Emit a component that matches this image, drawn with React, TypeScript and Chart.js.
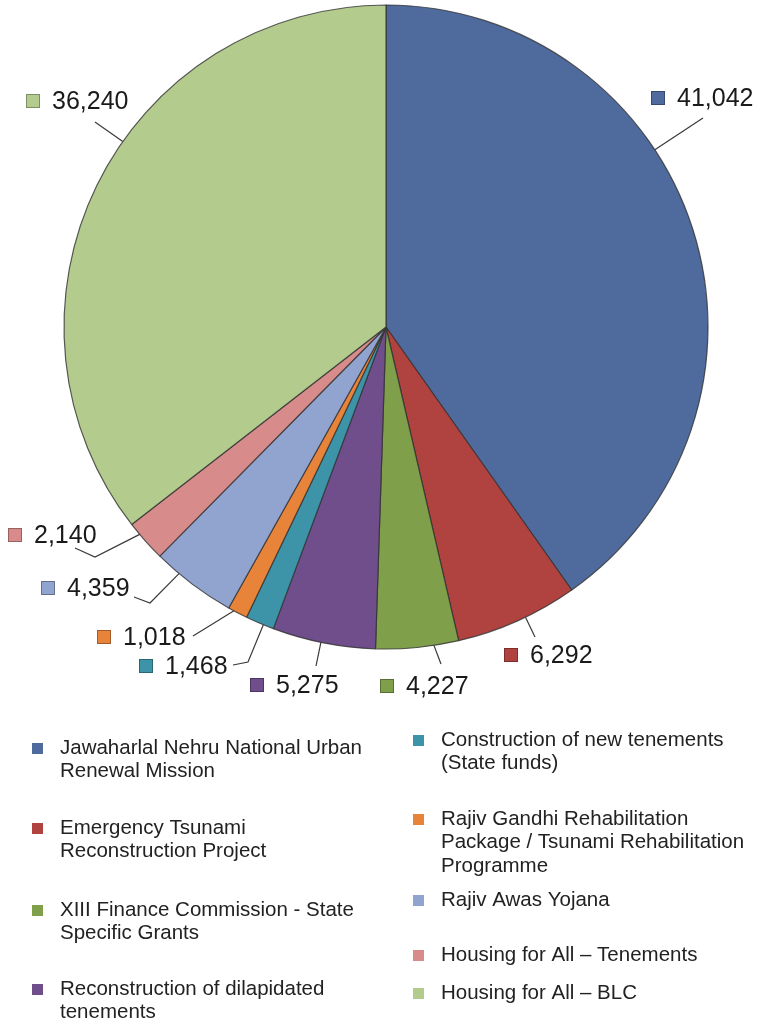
import { useEffect, useRef } from "react";
import { Chart, registerables } from "chart.js";

Chart.register(...registerables);

// ---- Data ----
const categories = [
  "Jawaharlal Nehru National Urban Renewal Mission",
  "Emergency Tsunami Reconstruction Project",
  "XIII Finance Commission - State Specific Grants",
  "Reconstruction of dilapidated tenements",
  "Construction of new tenements (State funds)",
  "Rajiv Gandhi Rehabilitation Package / Tsunami Rehabilitation Programme",
  "Rajiv Awas Yojana",
  "Housing for All \u2013 Tenements",
  "Housing for All \u2013 BLC",
];
const values = [41042, 6292, 4227, 5275, 1468, 1018, 4359, 2140, 36240];
const colors = [
  "#4F6A9C",
  "#B0423F",
  "#7F9F4A",
  "#6F4E8B",
  "#3D94A9",
  "#E8833A",
  "#91A3CF",
  "#D78B8A",
  "#B3CC8E",
];

// ---- Layout of annotations (offsets from pie centre, px) ----
const labelTextPos = [
  [291, -229],
  [144, 328],
  [20, 359],
  [-110, 358],
  [-221, 339],
  [-263, 310],
  [-319, 261],
  [-352, 208],
  [-334, -226],
];
const leaderPoints = [
  [[317, -209]],
  [[149, 310]],
  [[55, 337]],
  [[-70, 339]],
  [[-153, 338], [-138, 335]],
  [[-193, 309]],
  [[-252, 270], [-236, 276]],
  [[-311, 221], [-291, 230]],
  [[-291, -205]],
];
const legendColumnX = [60, 441];
const legendColumn = [0, 0, 0, 0, 1, 1, 1, 1, 1];
const legendFirstLineY = [748, 828, 910, 989, 740, 819, 900, 955, 993];

const fmt = (v: number) => v.toLocaleString("en-US");

function wrap(ctx: CanvasRenderingContext2D, text: string, maxW: number) {
  const words = text.split(" ");
  const lines: string[] = [];
  let cur = "";
  for (const w of words) {
    const t = cur ? cur + " " + w : w;
    if (ctx.measureText(t).width > maxW && cur) {
      lines.push(cur);
      cur = w;
    } else cur = t;
  }
  if (cur) lines.push(cur);
  return lines;
}

const annotationPlugin = {
  id: "annotations",
  afterDraw(chart: any) {
    const ctx: CanvasRenderingContext2D = chart.ctx;
    const meta = chart.getDatasetMeta(0);
    const labels: string[] = chart.data.labels;
    const ds = chart.data.datasets[0];
    ctx.save();
    meta.data.forEach((arc: any, i: number) => {
      const cx = arc.x;
      const cy = arc.y;
      const r = arc.outerRadius;
      const pts = leaderPoints[i].map(([dx, dy]) => [cx + dx, cy + dy]);
      const last = pts[pts.length - 1];
      let a = Math.atan2(last[1] - cy, last[0] - cx);
      if (a < -Math.PI / 2) a += Math.PI * 2;
      const span = arc.endAngle - arc.startAngle;
      const lo = arc.startAngle + 0.3 * span;
      const hi = arc.endAngle - 0.3 * span;
      a = Math.min(Math.max(a, lo), hi);
      const ax = cx + r * Math.cos(a);
      const ay = cy + r * Math.sin(a);
      // leader
      ctx.beginPath();
      ctx.strokeStyle = "#3a3a3a";
      ctx.lineWidth = 1.2;
      ctx.moveTo(pts[0][0], pts[0][1]);
      for (let k = 1; k < pts.length; k++) ctx.lineTo(pts[k][0], pts[k][1]);
      ctx.lineTo(ax, ay);
      ctx.stroke();
      // label
      const tx = cx + labelTextPos[i][0];
      const ty = cy + labelTextPos[i][1];
      ctx.fillStyle = ds.backgroundColor[i];
      ctx.fillRect(tx - 26, ty - 7, 14, 14);
      ctx.strokeStyle = "rgba(0,0,0,0.3)";
      ctx.lineWidth = 1;
      ctx.strokeRect(tx - 25.5, ty - 6.5, 13, 13);
      ctx.fillStyle = "#1a1a1a";
      ctx.font = '25px "Liberation Sans", Arial, sans-serif';
      ctx.textBaseline = "middle";
      ctx.textAlign = "left";
      ctx.fillText(fmt(ds.data[i]), tx, ty + 1);
    });
    // legend
    ctx.font = '20.5px "Liberation Sans", Arial, sans-serif';
    ctx.textBaseline = "middle";
    labels.forEach((lab: string, i: number) => {
      const x = legendColumnX[legendColumn[i]];
      const y0 = legendFirstLineY[i];
      ctx.fillStyle = ds.backgroundColor[i];
      ctx.fillRect(x - 28, y0 - 5, 11, 11);
      ctx.fillStyle = "#222";
      const lines = wrap(ctx, lab, 314);
      lines.forEach((ln, k) => ctx.fillText(ln, x, y0 + k * 23.5));
    });
    ctx.restore();
  },
};

export default function App() {
  const ref = useRef<HTMLCanvasElement | null>(null);
  useEffect(() => {
    if (!ref.current) return;
    const chart = new Chart(ref.current, {
      type: "pie",
      data: {
        labels: categories,
        datasets: [
          {
            data: values,
            backgroundColor: colors,
            borderColor: "rgba(50,50,50,0.8)",
            borderWidth: 1.2,
            radius: 322,
          } as any,
        ],
      },
      options: {
        responsive: false,
        animation: false,
        layout: { padding: { left: 64, right: 55, top: 5, bottom: 375 } },
        plugins: {
          legend: { display: false },
          tooltip: { enabled: false },
        },
      } as any,
      plugins: [annotationPlugin],
    });
    return () => chart.destroy();
  }, []);
  return (
    <div style={{ position: "absolute", left: 0, top: 0, width: 763, height: 1024, background: "#fff" }}>
      <canvas ref={ref} width={763} height={1024} style={{ display: "block" }} />
    </div>
  );
}
